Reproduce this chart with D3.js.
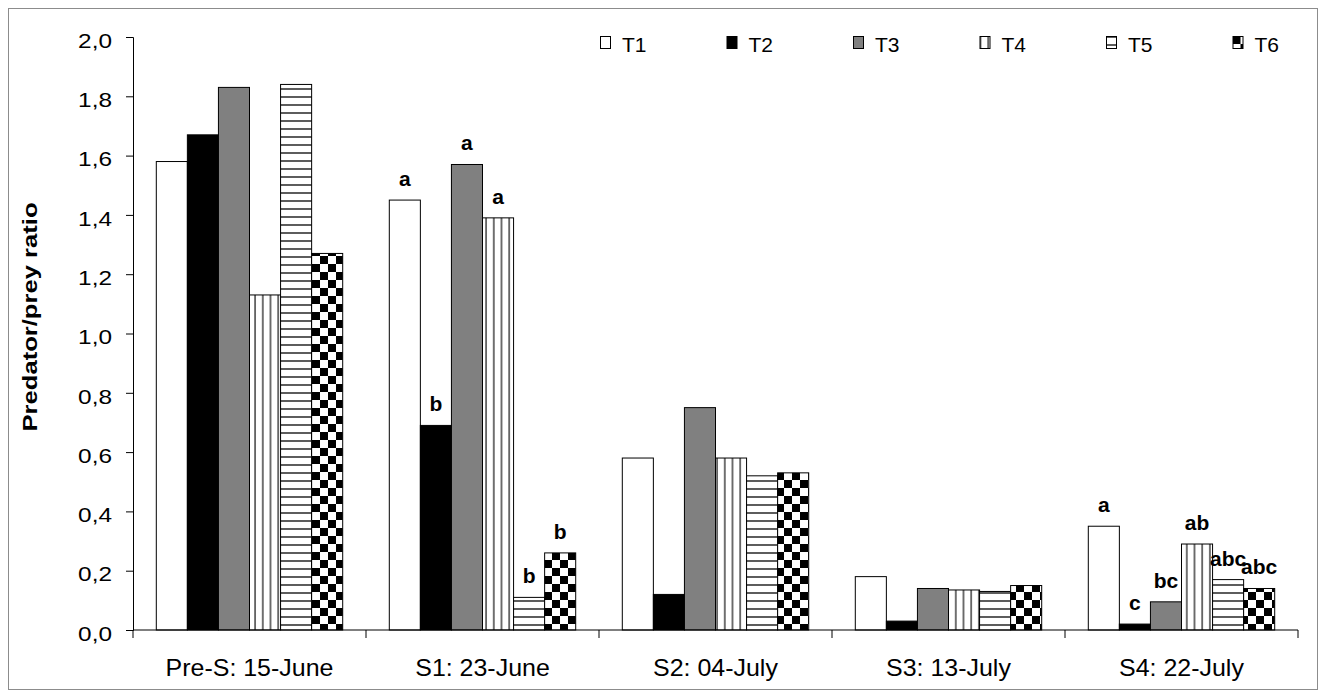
<!DOCTYPE html>
<html>
<head>
<meta charset="utf-8">
<script src="https://cdn.jsdelivr.net/npm/d3@7"></script>
<style>
  body { margin: 0; background: #fff; }
  text { font-family: "Liberation Sans", Arial, sans-serif; }
</style>
</head>
<body>
<svg id="chart" width="1325" height="699"></svg>
<script>
const dates = ['Pre-S: 15-June', 'S1: 23-June', 'S2: 04-July', 'S3: 13-July', 'S4: 22-July'];
const treatments = ['T1', 'T2', 'T3', 'T4', 'T5', 'T6'];

const t1 = [1.58, 1.45, 0.58, 0.18, 0.35];
const t2 = [1.67, 0.69, 0.12, 0.03, 0.02];
const t3 = [1.83, 1.57, 0.75, 0.14, 0.095];
const t4 = [1.13, 1.39, 0.58, 0.135, 0.29];
const t5 = [1.84, 0.11, 0.52, 0.13, 0.17];
const t6 = [1.27, 0.26, 0.53, 0.15, 0.14];

// significance letters (empty = none)
const letters1 = ['', 'a', '', '', 'a'];
const letters2 = ['', 'b', '', '', 'c'];
const letters3 = ['', 'a', '', '', 'bc'];
const letters4 = ['', 'a', '', '', 'ab'];
const letters5 = ['', 'b', '', '', 'abc'];
const letters6 = ['', 'b', '', '', 'abc'];

const yTicks = [0, 0.2, 0.4, 0.6, 0.8, 1.0, 1.2, 1.4, 1.6, 1.8, 2.0];

const series = [t1, t2, t3, t4, t5, t6];
const letters = [letters1, letters2, letters3, letters4, letters5, letters6];

const rows = [];
dates.forEach((d, i) => {
  treatments.forEach((t, j) => {
    rows.push({ date: d, t: t, value: series[j][i], label: letters[j][i] });
  });
});

const svg = d3.select('#chart');
const plotLeft = 133, plotRight = 1298, plotTop = 37, plotBottom = 630;

// chart border
svg.append('rect')
  .attr('x', 8.5).attr('y', 8.5).attr('width', 1309).attr('height', 681)
  .attr('fill', 'none').attr('stroke', '#8c8c8c').attr('stroke-width', 1);

const defs = svg.append('defs');
const pv = defs.append('pattern').attr('id', 'vert').attr('patternUnits', 'userSpaceOnUse')
  .attr('width', 7.7).attr('height', 10);
pv.append('rect').attr('width', 7.7).attr('height', 10).attr('fill', '#fff');
pv.append('line').attr('x1', 1).attr('x2', 1).attr('y1', 0).attr('y2', 10)
  .attr('stroke', '#333').attr('stroke-width', 1.4);

const ph = defs.append('pattern').attr('id', 'horiz').attr('patternUnits', 'userSpaceOnUse')
  .attr('width', 10).attr('height', 8);
ph.append('rect').attr('width', 10).attr('height', 8).attr('fill', '#fff');
ph.append('line').attr('x1', 0).attr('x2', 10).attr('y1', 1).attr('y2', 1)
  .attr('stroke', '#333').attr('stroke-width', 1.6);

const pc = defs.append('pattern').attr('id', 'check').attr('patternUnits', 'userSpaceOnUse')
  .attr('width', 16).attr('height', 16);
pc.append('rect').attr('width', 16).attr('height', 16).attr('fill', '#fff');
pc.append('rect').attr('x', 0).attr('y', 0).attr('width', 8).attr('height', 8).attr('fill', '#000');
pc.append('rect').attr('x', 8).attr('y', 8).attr('width', 8).attr('height', 8).attr('fill', '#000');

const fills = d3.scaleOrdinal()
  .domain(treatments)
  .range(['#fff', '#000', '#808080', 'url(#vert)', 'url(#horiz)', 'url(#check)']);

const x0 = d3.scaleBand().domain(dates).range([plotLeft, plotRight]);
const x1 = d3.scaleBand().domain(treatments).range([0, x0.bandwidth()]).paddingOuter(0.75);
const y = d3.scaleLinear().domain([0, 2]).range([plotBottom, plotTop]);

// bars
svg.append('g')
  .selectAll('rect')
  .data(rows)
  .enter()
  .append('rect')
  .attr('x', (d) => x0(d.date) + x1(d.t))
  .attr('y', (d) => y(d.value))
  .attr('width', x1.bandwidth())
  .attr('height', (d) => y(0) - y(d.value))
  .attr('fill', (d) => fills(d.t))
  .attr('stroke', '#000')
  .attr('stroke-width', 1);

// letters
svg.append('g')
  .selectAll('text')
  .data(rows.filter((d) => d.label))
  .enter()
  .append('text')
  .attr('x', (d) => x0(d.date) + x1(d.t) + x1.bandwidth() / 2)
  .attr('y', (d) => y(d.value) - 14)
  .attr('text-anchor', 'middle')
  .attr('font-size', 21)
  .attr('font-weight', 'bold')
  .text((d) => d.label);

// y axis
const sx = 1.22;
const leftAxis = d3.axisLeft(y).tickValues(yTicks).tickSize(7)
  .tickFormat((d) => d3.format('.1f')(d).replace('.', ','));
const ya = svg.append('g')
  .attr('transform', `translate(${plotLeft}, 0)`)
  .call(leftAxis);
ya.selectAll('.tick text')
  .attr('font-size', 20)
  .attr('font-family', '"Liberation Sans", Arial, sans-serif')
  .attr('fill', '#000')
  .attr('x', -21 / sx)
  .attr('y', 3)
  .attr('dy', '0.36em')
  .attr('transform', `scale(${sx}, 1)`);
ya.select('.domain').attr('stroke', '#000');

// x axis
const xa = svg.append('g').attr('transform', `translate(0, ${plotBottom})`);
xa.append('line').attr('x1', plotLeft).attr('x2', plotRight).attr('stroke', '#000');
xa.selectAll('.tk')
  .data(dates.concat(['end']))
  .enter()
  .append('line')
  .attr('class', 'tk')
  .attr('x1', (d, i) => i < dates.length ? x0(d) : x0.range()[1])
  .attr('x2', (d, i) => i < dates.length ? x0(d) : x0.range()[1])
  .attr('y1', 0).attr('y2', 8)
  .attr('stroke', '#000');
xa.selectAll('text')
  .data(dates)
  .enter()
  .append('text')
  .attr('transform', (d) => `translate(${x0(d) + x0.bandwidth() / 2}, 46) scale(1.04, 1)`)
  .attr('text-anchor', 'middle')
  .attr('font-size', 24)
  .text((d) => d);

// y title
svg.append('text')
  .attr('transform', 'translate(37, 317) rotate(-90) scale(1.28, 1)')
  .attr('text-anchor', 'middle')
  .attr('font-size', 20)
  .attr('font-weight', 'bold')
  .text('Predator/prey ratio');

// legend
const legend = svg.append('g')
  .selectAll('g')
  .data(treatments)
  .enter()
  .append('g')
  .attr('transform', (d, i) => `translate(${600 + i * 126.5}, 36)`);
legend.append('rect')
  .attr('x', 0.5).attr('y', 0.5)
  .attr('width', 10).attr('height', 12)
  .attr('fill', (d) => fills(d))
  .attr('stroke', '#000');
legend.append('text')
  .attr('x', 22).attr('y', 16)
  .attr('font-size', 21)
  .text((d) => d);
</script>
</body>
</html>
